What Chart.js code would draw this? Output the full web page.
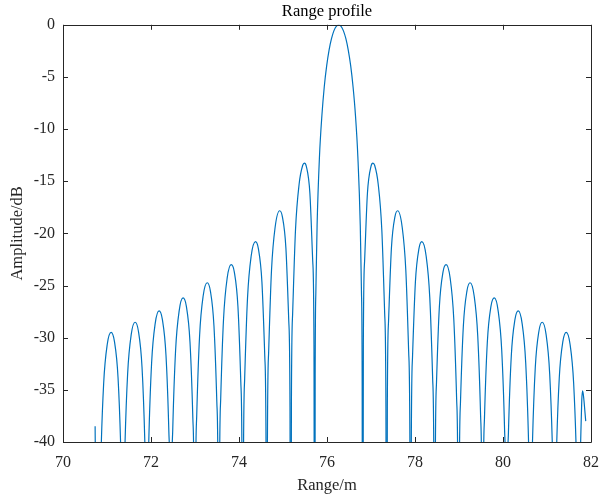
<!DOCTYPE html>
<html>
<head>
<meta charset="utf-8">
<script src="https://cdn.jsdelivr.net/npm/chart.js@4.4.1/dist/chart.umd.min.js"></script>
<style>
  body { margin: 0; background: #fff; }
</style>
</head>
<body>
<canvas id="profile" width="599" height="499"></canvas>
<script>
//axis ticks
const xTicks = [70, 72, 74, 76, 78, 80, 82];
const yTicks = [0, -5, -10, -15, -20, -25, -30, -35, -40];

//range samples (m), one row per lobe, left to right
const rangeM = [
  70.730, 70.815,
  70.831, 70.859, 70.924, 71.006, 71.093, 71.169, 71.251, 71.316, 71.344, 71.360,
  71.376, 71.404, 71.469, 71.551, 71.638, 71.714, 71.796, 71.861, 71.889, 71.905,
  71.921, 71.949, 72.014, 72.096, 72.183, 72.259, 72.341, 72.406, 72.434, 72.450,
  72.466, 72.494, 72.559, 72.641, 72.728, 72.804, 72.886, 72.951, 72.979, 72.995,
  73.011, 73.039, 73.104, 73.186, 73.278, 73.349, 73.431, 73.496, 73.524, 73.540,
  73.556, 73.584, 73.649, 73.731, 73.823, 73.894, 73.976, 74.041, 74.069, 74.085,
  74.101, 74.129, 74.194, 74.276, 74.374, 74.439, 74.521, 74.586, 74.614, 74.630,
  74.646, 74.674, 74.739, 74.821, 74.924, 74.984, 75.066, 75.131, 75.159, 75.175,
  75.191, 75.219, 75.284, 75.366, 75.448, 75.486, 75.529, 75.611, 75.676, 75.704, 75.720,
  75.731, 75.747, 75.775, 75.829, 75.884, 75.938, 75.993, 76.047, 76.102, 76.156, 76.211,
  76.265,
  76.320, 76.374, 76.429, 76.483, 76.538, 76.592, 76.647, 76.701, 76.756, 76.783, 76.799, 76.810,
  76.826, 76.854, 76.919, 77.001, 77.044, 77.083, 77.164, 77.246, 77.311, 77.339, 77.355,
  77.371, 77.399, 77.464, 77.546, 77.606, 77.709, 77.791, 77.856, 77.884, 77.900,
  77.916, 77.944, 78.009, 78.091, 78.156, 78.254, 78.336, 78.401, 78.429, 78.445,
  78.461, 78.489, 78.554, 78.636, 78.707, 78.799, 78.881, 78.946, 78.974, 78.990,
  79.006, 79.034, 79.099, 79.181, 79.252, 79.344, 79.426, 79.491, 79.519, 79.535,
  79.551, 79.579, 79.644, 79.726, 79.802, 79.889, 79.971, 80.036, 80.064, 80.080,
  80.096, 80.124, 80.189, 80.271, 80.347, 80.434, 80.516, 80.581, 80.609, 80.625,
  80.641, 80.669, 80.734, 80.816, 80.892, 80.979, 81.061, 81.126, 81.154, 81.170,
  81.186, 81.214, 81.279, 81.361, 81.437, 81.524, 81.606, 81.671, 81.699, 81.715,
  81.740, 81.765, 81.790, 81.810, 81.835, 81.860, 81.880
];

//amplitude (dB) for each range sample
const ampDb = [
  -38.5, -80,
  -50.45, -41.96, -34.39, -30.63, -29.49, -30.36, -33.84, -41.20, -49.59, -80,
  -49.53, -41.04, -33.45, -29.68, -28.52, -29.38, -32.84, -40.18, -48.57, -80,
  -48.50, -40.01, -32.40, -28.62, -27.43, -28.27, -31.71, -39.03, -47.41, -80,
  -47.34, -38.84, -31.21, -27.40, -26.19, -27.00, -30.41, -37.71, -46.08, -80,
  -45.99, -37.48, -29.83, -25.98, -24.73, -25.51, -28.88, -36.15, -44.50, -80,
  -44.40, -35.87, -28.19, -24.29, -23.00, -23.71, -27.03, -34.25, -42.58, -80,
  -42.45, -33.90, -26.16, -22.19, -20.79, -21.44, -24.67, -31.80, -40.10, -80,
  -39.93, -31.34, -23.51, -19.41, -17.83, -18.36, -21.41, -28.39, -36.62, -80,
  -36.36, -27.70, -19.67, -15.29, -13.47, -13.26, -13.55, -16.15, -22.70, -30.73, -80,
  -33.8, -25.6, -19.23, -12.62, -8.69, -5.94, -3.92, -2.42, -1.33, -0.58, -0.14,
  0,
  -0.14, -0.58, -1.33, -2.42, -3.92, -5.94, -8.69, -12.62, -19.23, -25.6, -33.8, -80,
  -30.73, -22.70, -16.15, -13.55, -13.26, -13.47, -15.29, -19.67, -27.70, -36.36, -80,
  -36.62, -28.39, -21.41, -18.36, -17.83, -19.41, -23.51, -31.34, -39.93, -80,
  -40.10, -31.80, -24.67, -21.44, -20.79, -22.19, -26.16, -33.90, -42.45, -80,
  -42.58, -34.25, -27.03, -23.71, -23.00, -24.29, -28.19, -35.87, -44.40, -80,
  -44.50, -36.15, -28.88, -25.51, -24.73, -25.98, -29.83, -37.48, -45.99, -80,
  -46.08, -37.71, -30.41, -27.00, -26.19, -27.40, -31.21, -38.84, -47.34, -80,
  -47.41, -39.03, -31.71, -28.27, -27.43, -28.62, -32.40, -40.01, -48.50, -80,
  -48.57, -40.18, -32.84, -29.38, -28.52, -29.68, -33.45, -41.04, -49.53, -80,
  -49.59, -41.20, -33.84, -30.36, -29.49, -30.63, -34.39, -41.96, -50.45, -80,
  -46, -40, -36.0, -35.1, -35.8, -37.0, -38.0
];

const axisCol = "#262626";
const serif = "'Liberation Serif', 'Times New Roman', serif";

//box around the axes with inward ticks on all four sides
const boxTicks = {
  id: "boxTicks",
  afterDraw(c) {
    const a = c.chartArea;
    const g = c.ctx;
    const sx = c.scales.x, sy = c.scales.y;
    const len = 5;
    g.save();
    g.strokeStyle = axisCol;
    g.lineWidth = 1;
    g.beginPath();
    g.rect(Math.round(a.left) + 0.5, Math.round(a.top) + 0.5,
      Math.round(a.right - a.left), Math.round(a.bottom - a.top));
    xTicks.forEach(v => {
      const px = Math.round(sx.getPixelForValue(v)) + 0.5;
      g.moveTo(px, a.bottom); g.lineTo(px, a.bottom - len);
      g.moveTo(px, a.top); g.lineTo(px, a.top + len);
    });
    yTicks.forEach(v => {
      const py = Math.round(sy.getPixelForValue(v)) + 0.5;
      g.moveTo(a.left, py); g.lineTo(a.left + len, py);
      g.moveTo(a.right, py); g.lineTo(a.right - len, py);
    });
    g.stroke();
    g.restore();
  }
};

const ctx = document.getElementById("profile").getContext("2d");
new Chart(ctx, {
  type: "line",
  data: {
    datasets: [{
      data: rangeM.map((r, i) => ({ x: r, y: ampDb[i] })),
      borderColor: "#0072BD",
      borderWidth: 1.2,
      pointRadius: 0,
      fill: false,
      cubicInterpolationMode: "monotone"
    }]
  },
  options: {
    responsive: false,
    animation: false,
    layout: { padding: { left: 0, right: 8, top: 0, bottom: 0 } },
    plugins: {
      legend: { display: false },
      tooltip: { enabled: false },
      title: {
        display: true,
        fullSize: false,
        text: "Range profile",
        color: "#000",
        font: { family: serif, size: 16.5, weight: "normal" },
        padding: { top: 2, bottom: 3 }
      }
    },
    scales: {
      x: {
        type: "linear",
        min: 70, max: 82,
        afterBuildTicks: s => { s.ticks = xTicks.map(v => ({ value: v })); },
        afterFit: s => { s.height = 57; s.paddingLeft = 0; s.paddingRight = 0; },
        grid: { display: false, drawTicks: false },
        border: { display: false },
        ticks: { color: axisCol, padding: 11, maxRotation: 0, font: { family: serif, size: 16 } },
        title: { display: true, text: "Range/m", color: axisCol, padding: { top: 0, bottom: 3 }, font: { family: serif, size: 16.5 } }
      },
      y: {
        min: -40, max: 0,
        afterBuildTicks: s => { s.ticks = yTicks.map(v => ({ value: v })); },
        afterFit: s => { s.width = 63; s.paddingTop = 0; s.paddingBottom = 0; },
        grid: { display: false, drawTicks: false },
        border: { display: false },
        ticks: { color: axisCol, padding: 8, font: { family: serif, size: 16 } },
        title: { display: true, text: "Amplitude/dB", color: axisCol, padding: { top: 8, bottom: 0 }, font: { family: serif, size: 16.5 } }
      }
    }
  },
  plugins: [boxTicks]
});
</script>
</body>
</html>
